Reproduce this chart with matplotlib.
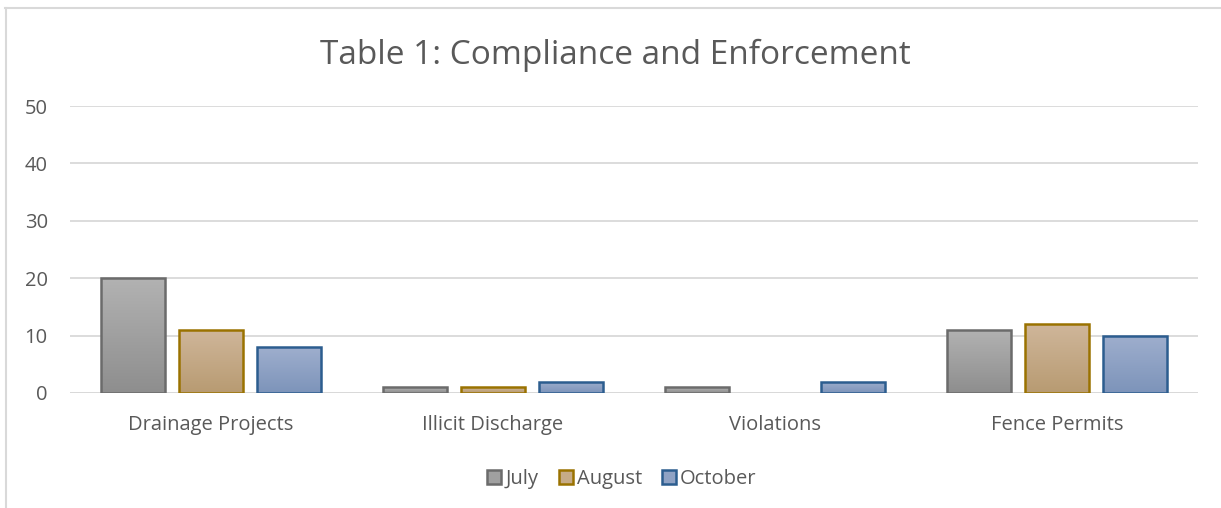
import numpy as np
import matplotlib
matplotlib.use("Agg")
import matplotlib.pyplot as plt
from matplotlib.colors import LinearSegmentedColormap
from matplotlib.lines import Line2D
from matplotlib.patches import Patch

categories = ["Drainage Projects", "Illicit Discharge", "Violations", "Fence Permits"]
series_names = ["July", "August", "October"]
july = [20, 1, 1, 11]
august = [11, 1, 0, 12]
october = [8, 2, 2, 10]
yticks = [0, 10, 20, 30, 40, 50]

plt.rcParams['font.family'] = ['Open Sans', 'DejaVu Sans']

fig = plt.figure(figsize=(12.21, 5.08), dpi=100)
ax = fig.add_axes([70/1221, 1 - 393/508, (1198-70)/1221, (393-106)/508])

grads = [("#b2b2b2", "#8e8e8e"), ("#cfb69a", "#b89b72"), ("#9eaecd", "#7d94ba")]
edges = ["#6b6b6b", "#9a7200", "#2c5d8f"]
fills = ["#a0a0a0", "#c6ab87", "#8fa2c4"]

x = np.arange(len(categories))
width = 64/282
step = 78/282
data = [july, august, october]
for i, vals in enumerate(data):
    bars = ax.bar(x + (i-1)*step, vals, width, color='none', edgecolor=edges[i],
                  linewidth=1.8, zorder=3, label=series_names[i])
    cmap = LinearSegmentedColormap.from_list("g%d" % i, [grads[i][1], grads[i][0]])
    for b in bars:
        h = b.get_height()
        if h <= 0:
            b.set_linewidth(0)
            continue
        im = ax.imshow(np.linspace(0, 1, 64).reshape(-1, 1), cmap=cmap, origin='lower',
                       extent=[b.get_x(), b.get_x()+b.get_width(), 0, h],
                       aspect='auto', zorder=2, interpolation='bilinear')
        im.set_clip_path(b)

ax.set_xlim(-0.5, len(categories)-0.5)
ax.set_ylim(0, 50)
ax.set_yticks(yticks)
ax.set_xticks(x)
ax.set_xticklabels(categories)
ax.grid(axis='y', color='#d9d9d9', linewidth=1.3, zorder=0)
for s in ax.spines.values():
    s.set_visible(False)
ax.axhline(0, color='#d9d9d9', linewidth=1.3, zorder=1)
ax.tick_params(axis='both', length=0, labelsize=14.5, colors='#595959')
ax.tick_params(axis='y', pad=16)
ax.tick_params(axis='x', pad=16)

fig.text(615/1221, 1 - 55/508, "Table 1: Compliance and Enforcement", ha='center', va='center',
         fontsize=24, color='#595959')

handles = [Patch(facecolor=fills[i], edgecolor=edges[i], linewidth=1.8) for i in range(3)]
fig.legend(handles, series_names, loc='center', bbox_to_anchor=(622/1221, 1 - 479/508),
           ncol=3, frameon=False, fontsize=14.5, labelcolor='#595959',
           handlelength=0.7, handleheight=0.7, handletextpad=0.2, columnspacing=1.0)

fig.add_artist(Line2D([5/1221, 1], [1-8/508, 1-8/508], color='#d9d9d9', linewidth=1.5))
fig.add_artist(Line2D([6/1221, 6/1221], [0, 1-8/508], color='#d9d9d9', linewidth=1.5))

fig.savefig("out.png", dpi=100)
